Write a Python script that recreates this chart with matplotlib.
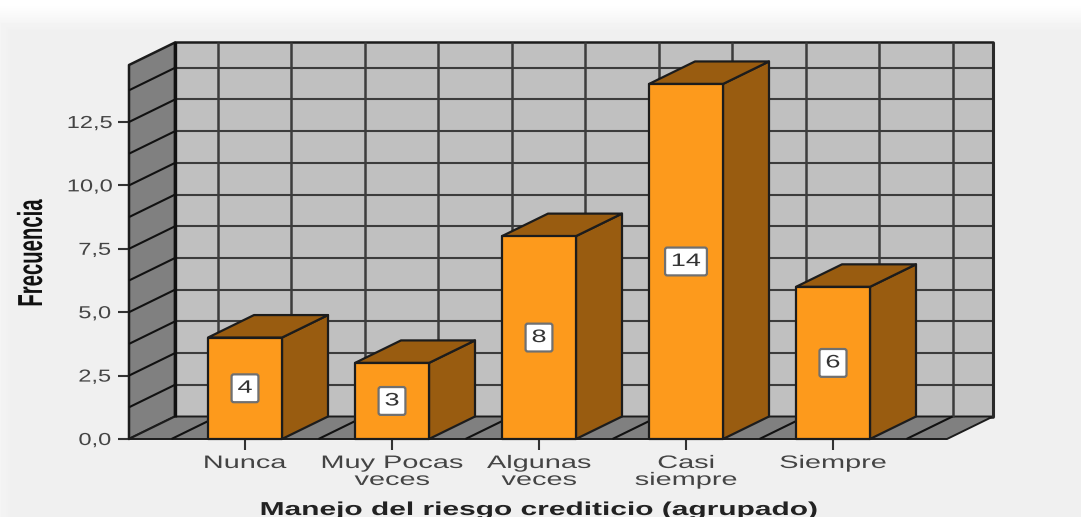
import numpy as np
import matplotlib
matplotlib.use("Agg")
import matplotlib.pyplot as plt
from matplotlib.patches import Polygon, BoxStyle
from matplotlib.patheffects import AbstractPathEffect
from matplotlib.transforms import Affine2D

categories = ["Nunca", "Muy Pocas\nveces", "Algunas\nveces", "Casi\nsiempre", "Siempre"]
values = [4, 3, 8, 14, 6]
y_ticks = [0, 2.5, 5, 7.5, 10, 12.5]
y_label = "Frecuencia"
x_label = "Manejo del riesgo crediticio (agrupado)"

W, H = 1081, 517
BG, WALL, DARK = "#f0f0f0", "#c0c0c0", "#808080"
FRONT, SIDE = "#fd9a1c", "#995c10"
LINE = "#1c1c1c"
GRID = "#3c3c3c"
FONT = "Liberation Sans"


class Stretch(AbstractPathEffect):
    """Widen or narrow a text's glyphs along its own direction, about its centre."""

    def __init__(self, sx):
        super().__init__()
        self.sx = sx

    def draw_path(self, renderer, gc, tpath, affine, rgbFace=None):
        ext = tpath.get_extents()
        cx = (ext.x0 + ext.x1) / 2
        t = Affine2D().translate(-cx, 0).scale(self.sx, 1).translate(cx, 0) + affine
        renderer.draw_path(gc, tpath, t, rgbFace)


def wide_box(sx, pad=0.3):
    base = BoxStyle.Round(pad=pad, rounding_size=0.12)

    def box(x0, y0, w, h, mutation_size):
        extra = w * (sx - 1) / 2
        return base(x0 - extra, y0, w + 2 * extra, h, mutation_size)

    return box


fig = plt.figure(figsize=(W / 100, H / 100), dpi=100, facecolor=BG)

# soft pale fade along the top and left edges of the picture
bg = fig.add_axes([0, 0, 1, 1], zorder=-1)
fade = np.full((H, W), 0.941)
top_fade = np.clip((30 - np.arange(H)) / 26, 0, 1)[:, None]
left_fade = np.clip((10 - np.arange(W)) / 10, 0, 1)[None, :] * 0.3
fade = fade + (1 - fade) * np.maximum(top_fade, left_fade)
bg.imshow(fade, cmap="gray", vmin=0, vmax=1, aspect="auto")
bg.axis("off")

px_per_cat, px_per_val = 147.0, 25.36
left, right, bottom, top = 129, 947, 439, 65
ax = fig.add_axes([left / W, 1 - bottom / H, (right - left) / W, (bottom - top) / H])
ax.patch.set_visible(False)
x0 = (left - 245) / px_per_cat
x1 = (right - 245) / px_per_cat
ymax = (bottom - top) / px_per_val
ax.set_xlim(x0, x1)
ax.set_ylim(0, ymax)
dx, dy = 46 / px_per_cat, 22.5 / px_per_val
bw = 74 / px_per_cat


def poly(pts, fc, z, lw=1.6, ec=LINE):
    ax.add_patch(Polygon(pts, closed=True, fc=fc, ec=ec, lw=lw, zorder=z,
                         clip_on=False, joinstyle="round"))


def seg(xs, ys, z, lw=1.5, c=GRID):
    ax.plot(xs, ys, color=c, lw=lw, zorder=z, clip_on=False, solid_capstyle="butt")


# walls and floor
poly([(x0 + dx, dy), (x1 + dx, dy), (x1 + dx, ymax + dy), (x0 + dx, ymax + dy)], WALL, 1, lw=1.8)
poly([(x0, 0), (x0 + dx, dy), (x0 + dx, ymax + dy), (x0, ymax)], DARK, 2, lw=1.8)
poly([(x0, 0), (x1, 0), (x1 + dx, dy), (x0 + dx, dy)], DARK, 2, lw=1.4)

# grid on the walls and floor
grid_y = np.arange(1.25, ymax, 1.25)
grid_x = np.arange(-0.5, x1, 0.5)
for g in grid_y:
    seg([x0 + dx, x1 + dx], [g + dy, g + dy], 3)
    seg([x0, x0 + dx], [g, g + dy], 3, c="#111111")
for g in grid_x:
    seg([g + dx, g + dx], [dy, ymax + dy], 3, lw=1.8)
    seg([g, g + dx], [0, dy], 3, c="#111111")
seg([x0 + dx, x0 + dx], [dy, ymax + dy], 4, lw=2.4, c="#111111")
seg([x1 + dx, x1 + dx], [dy, ymax + dy], 4, lw=2.2, c="#2a2a2a")

# bars
VAL_SX = 1.5
for i, v in enumerate(values):
    l, r = i - bw / 2, i + bw / 2
    z = 10 + i
    poly([(r, 0), (r + dx, dy), (r + dx, v + dy), (r, v)], SIDE, z)
    poly([(l, v), (r, v), (r + dx, v + dy), (l + dx, v + dy)], SIDE, z)
    poly([(l, 0), (r, 0), (r, v), (l, v)], FRONT, z + 0.5)
    t = ax.text(i, v / 2, str(v), ha="center", va="center", fontsize=13,
                family=FONT, color="#333333", zorder=30,
                bbox=dict(boxstyle=wide_box(1.6 if v < 10 else 1.55), fc="white",
                          ec="#707070", lw=1.6))
    t.set_path_effects([Stretch(VAL_SX)])

# axes furniture
for name, spine in ax.spines.items():
    spine.set_visible(False)
ax.set_yticks(y_ticks)
ax.set_yticklabels([f"{t:.1f}".replace(".", ",") for t in y_ticks])
ax.set_xticks(range(len(categories)))
ax.set_xticklabels(categories, linespacing=1.0)
ax.tick_params(axis="y", length=8, width=1.5, color="#333333", labelcolor="#444444",
               labelsize=12.5, pad=8)
ax.tick_params(axis="x", length=8, width=1.5, color="#333333", labelcolor="#444444",
               labelsize=13, pad=3.5)
for lab in ax.get_yticklabels():
    lab.set_family(FONT)
    lab.set_path_effects([Stretch(1.36)])
for lab in ax.get_xticklabels():
    lab.set_family(FONT)
    lab.set_path_effects([Stretch(1.6)])

yl = fig.text(42 / W, 1 - 253.5 / H, y_label, rotation=90, ha="center", va="baseline",
              rotation_mode="anchor", family=FONT, fontweight="bold",
              fontsize=25, color="#111111")
yl.set_path_effects([Stretch(0.585)])
xl = fig.text(538.5 / W, 1 - 515 / H, x_label, ha="center", va="baseline",
              family=FONT, fontweight="bold", fontsize=13.5, color="#222222")
xl.set_path_effects([Stretch(1.595)])

fig.savefig("out.png", dpi=100, facecolor=BG)
